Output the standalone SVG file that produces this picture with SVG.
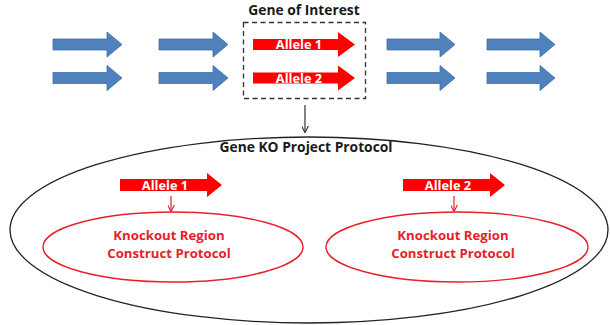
<svg xmlns="http://www.w3.org/2000/svg" width="610" height="325" viewBox="0 0 610 325">
  <style>
    .blue { fill: #4f81bd; stroke: #3f6fa8; stroke-width: 0.8; }
    .red { fill: #ff0000; }
    .lbl { font-family: "Open Sans", "Liberation Sans", sans-serif; font-weight: bold; text-anchor: middle; }
    .title { font-size: 13.8px; fill: #1a1a1a; }
    .allele { font-size: 12.8px; fill: #ffffff; }
    .ko { font-size: 13.2px; fill: #e8202a; }
    .conn { fill: none; stroke: #333333; stroke-width: 1.2; }
    .connred { fill: none; stroke: #e8202a; stroke-width: 1.2; }
  </style>
  <defs>
    <marker id="headDark" viewBox="0 0 10 10" refX="9" refY="5" markerWidth="7" markerHeight="7" orient="auto" markerUnits="userSpaceOnUse">
      <path d="M0,0 L10,5 L0,10" fill="none" stroke="#333333" stroke-width="1.6"/>
    </marker>
    <marker id="headRed" viewBox="0 0 10 10" refX="9" refY="5" markerWidth="7" markerHeight="7" orient="auto" markerUnits="userSpaceOnUse">
      <path d="M0,0 L10,5 L0,10" fill="none" stroke="#e8202a" stroke-width="1.6"/>
    </marker>
  </defs>

  <rect width="610" height="325" fill="#ffffff"/>

  <!-- neighbouring genes -->
  <g id="genes-left">
    <path class="blue" d="M53,39 H107 V32 L122,44.5 L107,57 V50 H53 Z"/>
    <path class="blue" d="M53,72.5 H107 V65.5 L122,78 L107,90.5 V83.5 H53 Z"/>
    <path class="blue" d="M159,39 H213 V32 L228,44.5 L213,57 V50 H159 Z"/>
    <path class="blue" d="M159,72.5 H213 V65.5 L228,78 L213,90.5 V83.5 H159 Z"/>
  </g>
  <g id="genes-right">
    <path class="blue" d="M387,39 H440 V32 L455,44.5 L440,57 V50 H387 Z"/>
    <path class="blue" d="M387,72.5 H440 V65.5 L455,78 L440,90.5 V83.5 H387 Z"/>
    <path class="blue" d="M487,39 H540 V32 L555,44.5 L540,57 V50 H487 Z"/>
    <path class="blue" d="M487,72.5 H540 V65.5 L555,78 L540,90.5 V83.5 H487 Z"/>
  </g>

  <!-- gene of interest -->
  <g id="gene-of-interest">
    <text class="lbl title" x="304" y="15">Gene of Interest</text>
    <rect x="243.5" y="22.5" width="122" height="76" fill="none" stroke="#333333" stroke-width="1.3" stroke-dasharray="5,3.5"/>
    <path class="red" d="M253,39 H338 V32 L355,44.5 L338,57 V50 H253 Z"/>
    <text class="lbl allele" x="299" y="49">Allele 1</text>
    <path class="red" d="M253,72.5 H338 V65.5 L355,78 L338,90.5 V83.5 H253 Z"/>
    <text class="lbl allele" x="299" y="82.5">Allele 2</text>
  </g>

  <!-- project protocol -->
  <g id="ko-project">
    <ellipse cx="309" cy="230" rx="299" ry="93" fill="none" stroke="#222222" stroke-width="1.3"/>
    <text class="lbl title" x="306" y="152">Gene KO Project Protocol</text>
  </g>

  <g id="allele1-protocol">
    <path class="red" d="M120,179 H207 V173 L222,185 L207,197 V191 H120 Z"/>
    <text class="lbl allele" x="165" y="189.5">Allele 1</text>
    <ellipse cx="173" cy="247" rx="130" ry="35" fill="none" stroke="#e8202a" stroke-width="1.4"/>
    <text class="lbl ko" x="169" y="240">Knockout Region</text>
    <text class="lbl ko" x="169" y="258">Construct Protocol</text>
  </g>

  <g id="allele2-protocol">
    <path class="red" d="M403,179 H490 V173 L505,185 L490,197 V191 H403 Z"/>
    <text class="lbl allele" x="448" y="189.5">Allele 2</text>
    <ellipse cx="457" cy="247" rx="131" ry="35" fill="none" stroke="#e8202a" stroke-width="1.4"/>
    <text class="lbl ko" x="453" y="240">Knockout Region</text>
    <text class="lbl ko" x="453" y="258">Construct Protocol</text>
  </g>

  <!-- connectors -->
  <g id="connectors">
    <line class="conn" x1="305" y1="105" x2="305" y2="132" marker-end="url(#headDark)"/>
    <line class="connred" x1="171" y1="196" x2="171" y2="211" marker-end="url(#headRed)"/>
    <line class="connred" x1="454" y1="196" x2="454" y2="211" marker-end="url(#headRed)"/>
  </g>
</svg>
